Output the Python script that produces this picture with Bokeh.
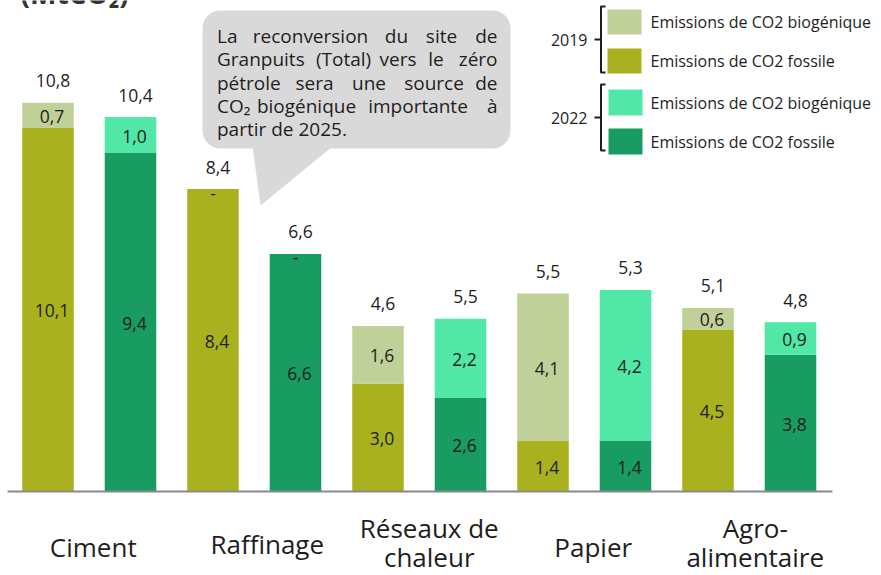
from bokeh.plotting import figure
from bokeh.models import Range1d, BoxAnnotation
from bokeh.core.properties import value
from bokeh.embed import file_html
from bokeh.resources import INLINE

# ---------------- data ----------------
categories = ["Ciment", "Raffinage", "Réseaux de\nchaleur", "Papier", "Agro-\nalimentaire"]
years = ["2019", "2022"]
fossil = [10.1, 9.4, 8.4, 6.6, 3.0, 2.6, 1.4, 1.4, 4.5, 3.8]
biogenic = [0.7, 1.0, 0.0, 0.0, 1.6, 2.2, 4.1, 4.2, 0.6, 0.9]
total_labels = ["10,8", "10,4", "8,4", "6,6", "4,6", "5,5", "5,5", "5,3", "5,1", "4,8"]
legend_labels = ["Emissions de CO2 biogénique", "Emissions de CO2 fossile"]
unit_label = "(MtCO₂)"
bubble_lines = [
    ["La", "reconversion", "du", "site", "de"],
    ["Granpuits", "(Total)", "vers", "le", "zéro"],
    ["pétrole", "sera", "une", "source", "de"],
    ["CO₂", "biogénique", "importante", "à"],
    ["partir de 2025."],
]

# ---------------- style ----------------
FONT = "Open Sans"
TXT = "#1e1e1e"
COL = {("2019", "bio"): "#bfd098", ("2019", "fos"): "#a9b21e",
       ("2022", "bio"): "#50e7a7", ("2022", "fos"): "#189c62"}

W, H = 881, 575
ORG = 0                 # page px of the canvas' top-left corner
X0, XS = 47.5, 82.5     # page px of bar 0 centre, px per bar slot
Y0, YS = 491.0, 36.0    # page px of zero line, px per MtCO2


def px2x(px):
    return (px - X0) / XS


def px2y(py):
    return (Y0 - py) / YS


def fmt(v):
    return f"{v:.1f}".replace(".", ",")


p = figure(width=W, height=H, output_backend="svg", toolbar_location=None,
           x_axis_type=None, y_axis_type=None,
           x_range=Range1d(px2x(ORG), px2x(ORG + W)),
           y_range=Range1d(px2y(ORG + H), px2y(ORG)),
           min_border=0, outline_line_color=None)
p.background_fill_color = "white"
p.border_fill_color = "white"

n = len(fossil)
xs = list(range(n))
yr = [years[i % 2] for i in xs]
tops = [f + b for f, b in zip(fossil, biogenic)]

p.vbar(x=xs, bottom=0, top=fossil, width=0.625,
       fill_color=[COL[(y, "fos")] for y in yr], line_color=None)
p.vbar(x=xs, bottom=fossil, top=tops, width=0.625,
       fill_color=[COL[(y, "bio")] for y in yr], line_color=None)

# axis line
p.segment(x0=[px2x(7)], x1=[px2x(832)], y0=[0], y1=[0],
          line_color="#8a8a8a", line_width=2.2)

lab = dict(text_font=value(FONT), text_font_size="17.5px", text_color=TXT,
           text_baseline="middle", text_align="center")
# segment labels
p.text(x=xs, y=[f / 2 for f in fossil], text=[fmt(f) for f in fossil],
       x_offset=4, y_offset=1, **lab)
bx = [i for i in xs if biogenic[i] > 0]
p.text(x=bx, y=[fossil[i] + biogenic[i] / 2 for i in bx],
       text=[fmt(biogenic[i]) for i in bx], x_offset=4, y_offset=1, **lab)
zx = [i for i in xs if biogenic[i] == 0]
p.text(x=zx, y=[fossil[i] for i in zx], text=["-" for _ in zx], y_offset=4, **lab)
# totals
p.text(x=xs, y=tops, text=total_labels, x_offset=5, y_offset=-22, **lab)

# category labels
cat_off = [4, 13, 10, 9, 6]
single_c = [546, 543, None, 546, None]
for k, c in enumerate(categories):
    parts = c.split("\n")
    cx = 2 * k + 0.5 + cat_off[k] / XS
    if len(parts) == 1:
        cys = [single_c[k]]
    else:
        cys = [527, 556]
    p.text(x=[cx] * len(parts), y=[px2y(v) for v in cys], text=parts,
           text_align="center", text_baseline="middle",
           text_font=value(FONT), text_font_size="26px", text_color=TXT)

# unit label (cut at top as in the original)
p.text(x=[px2x(20)], y=[px2y(-8)], text=[unit_label], text_align="left",
       text_baseline="middle", text_font=value(FONT), text_font_size="28px",
       text_font_style="bold", text_color="#333333")

# speech bubble
p.add_layout(BoxAnnotation(left=px2x(202), right=px2x(510), top=px2y(10), bottom=px2y(148),
                           fill_color="#d9d9d9", fill_alpha=1.0, line_color=None,
                           border_radius=18, level="underlay"))
p.patch(x=[px2x(252), px2x(332), px2x(260)], y=[px2y(146), px2y(146), px2y(205)],
        fill_color="#d9d9d9", line_color=None)

word_pos = [
    [None, 310, 396, 441, None],
    [None, 343, 397.5, 435.5, None],
    [None, 314, 368.5, 433.5, None],
    [None, 306, 417.5, None],
    [None],
]
bl = dict(text_font=value(FONT), text_font_size="19px", text_color=TXT,
          text_baseline="middle")
LEFT, RIGHT = 216.5, 497
for li, words in enumerate(bubble_lines):
    by = px2y(35.3 + li * 23.4)
    lx, ly, lt, cx_, cy_, ct, rx, ry, rt = [], [], [], [], [], [], [], [], []
    for wi, w in enumerate(words):
        if wi == 0:
            lx.append(px2x(LEFT)); ly.append(by); lt.append(w)
        elif wi == len(words) - 1:
            rx.append(px2x(RIGHT)); ry.append(by); rt.append(w)
        else:
            cx_.append(px2x(word_pos[li][wi])); cy_.append(by); ct.append(w)
    if lt:
        p.text(x=lx, y=ly, text=lt, text_align="left", **bl)
    if ct:
        p.text(x=cx_, y=cy_, text=ct, text_align="center", **bl)
    if rt:
        p.text(x=rx, y=ry, text=rt, text_align="right", **bl)

# legend
sw = [  # (year, kind, top px, bottom px, left px)
    ("2019", "bio", 9, 34, 607), ("2019", "fos", 48, 73, 607),
    ("2022", "bio", 89, 115, 608), ("2022", "fos", 128, 154, 608),
]
for (y, kind, t, b, l), name in zip(sw, legend_labels * 2):
    p.quad(left=[px2x(l)], right=[px2x(l + 34)], top=[px2y(t)], bottom=[px2y(b)],
           fill_color=COL[(y, kind)], line_color=None)
    p.text(x=[px2x(650)], y=[px2y((t + b) / 2)], text=[name], text_align="left",
           text_baseline="middle", text_font=value(FONT), text_font_size="16px",
           text_color=TXT)

for y, t, b in [("2019", 6, 72), ("2022", 84, 150)]:
    m = (t + b) / 2
    p.multi_line(xs=[[px2x(605), px2x(600.5), px2x(600.5), px2x(605)],
                     [px2x(594), px2x(600.5)]],
                 ys=[[px2y(t), px2y(t), px2y(b), px2y(b)], [px2y(m), px2y(m)]],
                 line_color=TXT, line_width=2)
    p.text(x=[px2x(587)], y=[px2y(m)], text=[y], text_align="right",
           text_baseline="middle", text_font=value(FONT), text_font_size="16px",
           text_color=TXT)

open("out.html", "w").write(file_html(p, INLINE))
